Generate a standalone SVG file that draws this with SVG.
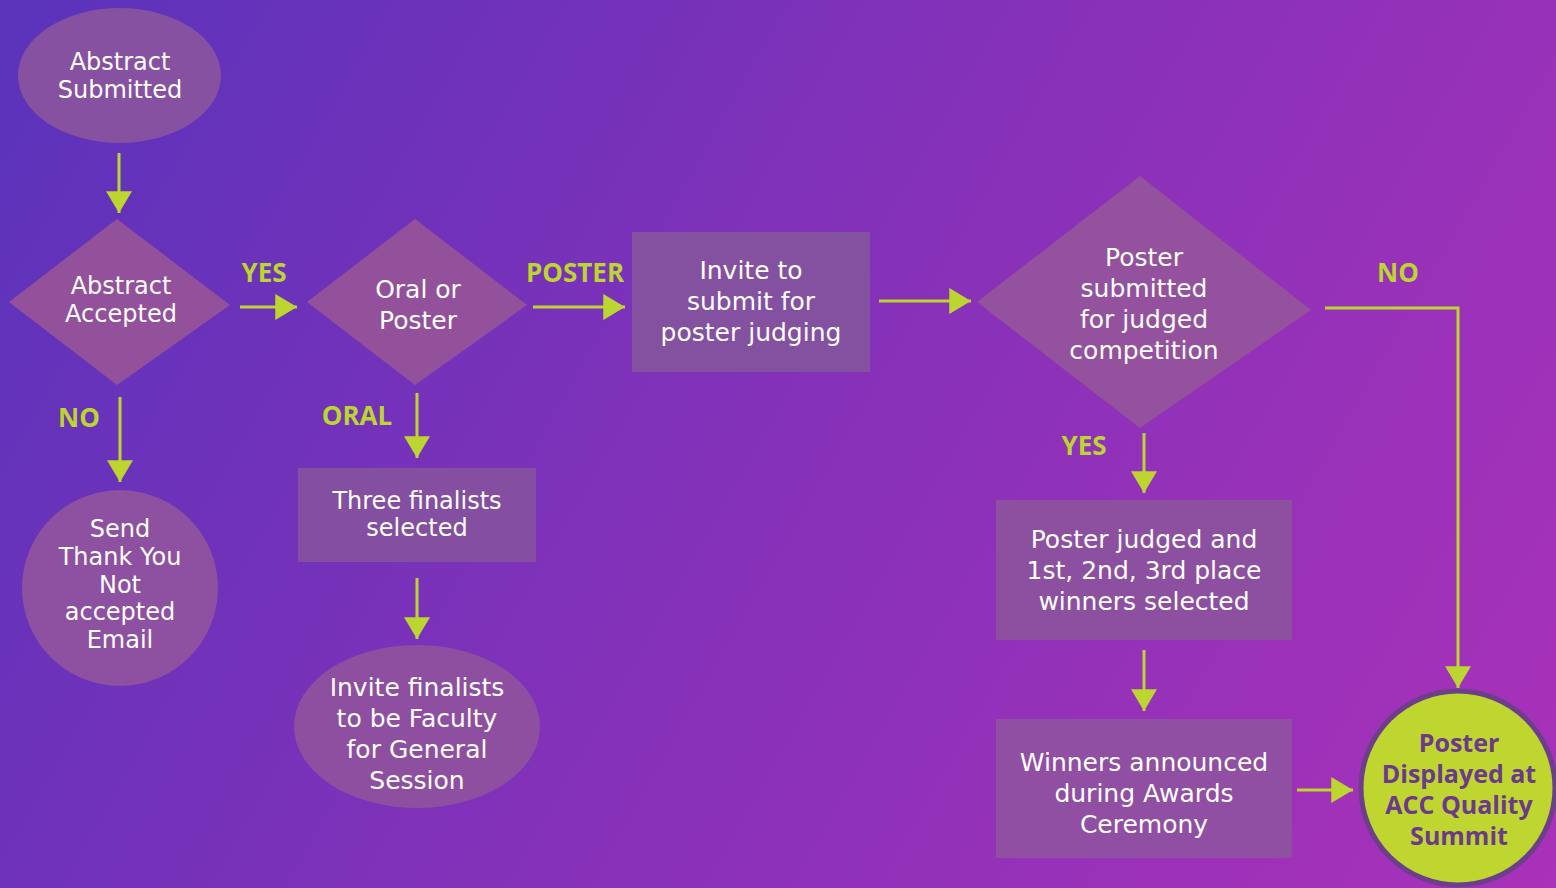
<svg xmlns="http://www.w3.org/2000/svg" width="1556" height="888" viewBox="0 0 1556 888">
<defs>
<linearGradient id="bg" x1="0" y1="0" x2="1556" y2="888" gradientUnits="userSpaceOnUse">
<stop offset="0" stop-color="#5a33bb"/>
<stop offset="0.5" stop-color="#8531b9"/>
<stop offset="1" stop-color="#aa31b9"/>
</linearGradient>
<marker id="ah" viewBox="0 0 10 12" refX="10" refY="6" markerWidth="7.3" markerHeight="8.7" markerUnits="strokeWidth" orient="auto">
<path d="M0,0 L10,6 L0,12 Z" fill="#bcd531"/>
</marker>
<style>
.node{fill:#8c50a0;}
.t{font-family:"DejaVu Sans","Liberation Sans",sans-serif;font-size:25px;fill:#ffffff;text-anchor:middle;}
.s{font-size:24px;}
.lbl{font-family:"Open Sans","Liberation Sans",sans-serif;font-size:26px;font-weight:bold;fill:#bcd531;text-anchor:middle;}
.c{stroke:#bcd531;stroke-width:3;fill:none;marker-end:url(#ah);}
.fin{font-family:"Open Sans","Liberation Sans",sans-serif;font-size:25px;font-weight:bold;fill:#6b3a8a;text-anchor:middle;}
</style>
</defs>
<rect x="0" y="0" width="1556" height="888" fill="url(#bg)"/>

<g id="connectors">
<line class="c" x1="119" y1="153" x2="119" y2="213"/>
<line class="c" x1="240" y1="307" x2="297" y2="307"/>
<line class="c" x1="533" y1="307" x2="625" y2="307"/>
<line class="c" x1="879" y1="301" x2="971" y2="301"/>
<polyline class="c" points="1325,308 1458,308 1458,688"/>
<line class="c" x1="1144" y1="433" x2="1144" y2="493"/>
<line class="c" x1="1144" y1="650" x2="1144" y2="711"/>
<line class="c" x1="1297" y1="790" x2="1353" y2="790"/>
<line class="c" x1="120" y1="397" x2="120" y2="482"/>
<line class="c" x1="417" y1="393" x2="417" y2="458"/>
<line class="c" x1="417" y1="578" x2="417" y2="639"/>
<text class="lbl" x="264" y="282">YES</text>
<text class="lbl" x="575" y="282">POSTER</text>
<text class="lbl" x="1398" y="282">NO</text>
<text class="lbl" x="1084" y="455">YES</text>
<text class="lbl" x="79" y="427">NO</text>
<text class="lbl" x="357" y="425">ORAL</text>
</g>

<g id="abstract-submitted">
<ellipse class="node" cx="119.5" cy="75.5" rx="101.5" ry="67.5" style="fill:#8651a0"/>
<text class="t s" x="120" y="70">Abstract</text>
<text class="t s" x="120" y="98">Submitted</text>
</g>

<g id="abstract-accepted">
<polygon class="node" points="117,219 230,305 117,385 9,302" style="fill:#93519c"/>
<text class="t s" x="121" y="294">Abstract</text>
<text class="t s" x="121" y="322">Accepted</text>
</g>

<g id="oral-or-poster">
<polygon class="node" points="415,219 527,305 415,385 307,302" style="fill:#93519c"/>
<text class="t" x="418" y="298">Oral or</text>
<text class="t" x="418" y="329">Poster</text>
</g>

<g id="invite-poster">
<rect class="node" x="632" y="232" width="238" height="140" style="fill:#8450a0"/>
<text class="t" x="751" y="279">Invite to</text>
<text class="t" x="751" y="310">submit for</text>
<text class="t" x="751" y="341">poster judging</text>
</g>

<g id="poster-submitted">
<polygon class="node" points="1140,176 1311,310 1140,428 977,302" style="fill:#93519e"/>
<text class="t" x="1144" y="266">Poster</text>
<text class="t" x="1144" y="297">submitted</text>
<text class="t" x="1144" y="328">for judged</text>
<text class="t" x="1144" y="359">competition</text>
</g>

<g id="poster-judged">
<rect class="node" x="996" y="500" width="296" height="140" style="fill:#8d50a1"/>
<text class="t" x="1144" y="548">Poster judged and</text>
<text class="t" x="1144" y="579">1st, 2nd, 3rd place</text>
<text class="t" x="1144" y="610">winners selected</text>
</g>

<g id="winners-announced">
<rect class="node" x="996" y="719" width="296" height="139" style="fill:#914fa3"/>
<text class="t" x="1144" y="771">Winners announced</text>
<text class="t" x="1144" y="802">during Awards</text>
<text class="t" x="1144" y="833">Ceremony</text>
</g>

<g id="poster-displayed">
<circle cx="1458" cy="788" r="97" fill="#bfd630" stroke="#6b3f8a" stroke-width="5"/>
<text class="fin" x="1459" y="752">Poster</text>
<text class="fin" x="1459" y="783">Displayed at</text>
<text class="fin" x="1459" y="814">ACC Quality</text>
<text class="fin" x="1459" y="845">Summit</text>
</g>

<g id="send-thank-you">
<ellipse class="node" cx="120" cy="588" rx="98" ry="98" style="fill:#8e50a0"/>
<text class="t s" x="120" y="537">Send</text>
<text class="t s" x="120" y="565">Thank You</text>
<text class="t s" x="120" y="593">Not</text>
<text class="t s" x="120" y="620">accepted</text>
<text class="t s" x="120" y="648">Email</text>
</g>

<g id="three-finalists">
<rect class="node" x="298" y="468" width="238" height="94" style="fill:#844fa0"/>
<text class="t s" x="417" y="509">Three finalists</text>
<text class="t s" x="417" y="536">selected</text>
</g>

<g id="invite-finalists">
<ellipse class="node" cx="417" cy="726.5" rx="123" ry="81.5" style="fill:#8e4fa0"/>
<text class="t" x="417" y="696">Invite finalists</text>
<text class="t" x="417" y="727">to be Faculty</text>
<text class="t" x="417" y="758">for General</text>
<text class="t" x="417" y="789">Session</text>
</g>
</svg>
